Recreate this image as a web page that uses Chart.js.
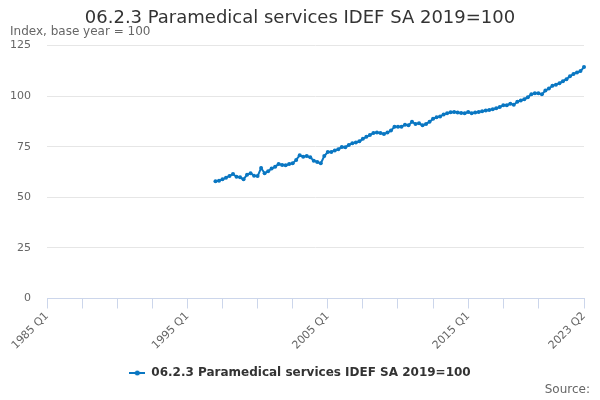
<!DOCTYPE html>
<html><head><meta charset="utf-8">
<script src="https://cdn.jsdelivr.net/npm/chart.js@4/dist/chart.umd.min.js"></script>
<style>html,body{margin:0;padding:0;background:#fff}#wrap{width:600px;height:400px;position:relative}</style>
</head><body><div id="wrap"><canvas id="c"></canvas></div>
<script>
const chartTitle = '06.2.3 Paramedical services IDEF SA 2019=100';
const seriesName = '06.2.3 Paramedical services IDEF SA 2019=100';
const yAxisTitle = 'Index, base year = 100';
const sourceText = 'Source:';
const firstYear = 1985, lastYear = 2023, lastQuarter = 2;
const categories = [];
for (let y = firstYear; y <= lastYear; y++) {
  for (let q = 1; q <= 4; q++) {
    if (y === lastYear && q > lastQuarter) break;
    categories.push(y + ' Q' + q);
  }
}
const seriesStart = '1997 Q1';
const values = [
  57.9, 58.2, 58.9, 59.7, 60.6, 61.5, 60.2, 59.9, 58.9, 61.2,
  61.9, 60.7, 60.5, 64.5, 61.9, 62.9, 64.2, 65.1, 66.5, 66.0,
  65.8, 66.5, 66.8, 68.5, 70.8, 70.1, 70.4, 69.8, 68.1, 67.5,
  66.8, 70.4, 72.4, 72.4, 73.2, 73.8, 74.9, 74.8, 75.9, 76.7,
  77.1, 77.7, 78.9, 79.9, 80.8, 81.8, 82.0, 81.8, 81.3, 82.0,
  83.0, 84.9, 84.9, 84.9, 85.9, 85.6, 87.3, 86.3, 86.6, 85.6,
  86.3, 87.3, 88.8, 89.6, 90.0, 90.9, 91.6, 92.1, 92.2, 91.9,
  91.7, 91.6, 92.2, 91.6, 91.9, 92.2, 92.6, 92.9, 93.2, 93.6,
  94.0, 94.6, 95.5, 95.5, 96.2, 95.8, 97.2, 97.9, 98.5, 99.5,
  100.9, 101.5, 101.5, 100.9, 102.8, 103.8, 105.1, 105.7, 106.4, 107.4,
  108.4, 109.8, 111.0, 111.7, 112.4, 114.4
];
const labelledTicks = ['1985 Q1', '1995 Q1', '2005 Q1', '2015 Q1', '2023 Q2'];
const tickMarkStep = 10;
const tickMarkLast = 140;
const yMin = 0, yMax = 125, yStep = 25;

const startIdx = categories.indexOf(seriesStart);
const data = categories.map((c, i) => (i >= startIdx && i - startIdx < values.length) ? values[i - startIdx] : null);

const FONT = "'DejaVu Sans', Verdana, sans-serif";
const LINE = '#0a77c2';

// legend icon: line with dot
const icon = document.createElement('canvas');
icon.width = 16; icon.height = 8;
(function(){
  const g = icon.getContext('2d');
  g.strokeStyle = LINE; g.lineWidth = 2;
  g.beginPath(); g.moveTo(0, 4); g.lineTo(16, 4); g.stroke();
  g.fillStyle = LINE; g.beginPath(); g.arc(8, 4, 2.5, 0, Math.PI * 2); g.fill();
})();

const extraText = {
  id: 'extraText',
  afterDraw(chart) {
    const ctx = chart.ctx;
    ctx.save();
    ctx.font = '12px ' + FONT;
    ctx.fillStyle = '#666666';
    ctx.textBaseline = 'middle';
    ctx.textAlign = 'left';
    ctx.fillText(yAxisTitle, 10, 32);
    ctx.textAlign = 'right';
    ctx.fillText(sourceText, 590, 390);
    ctx.restore();
  }
};

new Chart(document.getElementById('c'), {
  type: 'line',
  data: {
    labels: categories,
    datasets: [{
      label: seriesName,
      data: data,
      borderColor: LINE,
      backgroundColor: LINE,
      borderWidth: 2,
      pointRadius: 2,
      pointBorderWidth: 0,
      pointBackgroundColor: LINE,
      tension: 0,
      spanGaps: false,
      yAxisID: 'y'
    }]
  },
  options: {
    responsive: true,
    maintainAspectRatio: false,
    animation: false,
    layout: { padding: { left: 8, right: 8, top: 0, bottom: 11 } },
    plugins: {
      title: {
        display: true,
        text: chartTitle,
        color: '#333333',
        font: { family: FONT, size: 18, weight: 'normal' },
        padding: { top: 8, bottom: 16 }
      },
      legend: {
        position: 'bottom',
        labels: {
          usePointStyle: true,
          pointStyleWidth: 16,
          padding: 10,
          color: '#333333',
          font: { family: FONT, size: 12, weight: 'bold' },
          generateLabels: () => [{
            text: seriesName, pointStyle: icon, fillStyle: LINE, strokeStyle: LINE,
            lineWidth: 0, hidden: false, datasetIndex: 0, fontColor: '#333333'
          }]
        }
      },
      tooltip: { enabled: false }
    },
    scales: {
      x: {
        type: 'category',
        offset: false,
        border: { display: true, color: '#ccd6eb', width: 1 },
        grid: {
          drawOnChartArea: false,
          drawTicks: true,
          tickLength: 10,
          color: (ctx) => {
            const i = ctx.index;
            return ((i % tickMarkStep === 0 && i <= tickMarkLast) || i === categories.length - 1) ? '#ccd6eb' : 'rgba(0,0,0,0)';
          }
        },
        ticks: {
          autoSkip: false,
          maxRotation: 45,
          minRotation: 45,
          padding: 1,
          color: '#666666',
          font: { family: FONT, size: 11 },
          callback: function (val, idx) {
            const lab = this.getLabelForValue(val);
            return labelledTicks.includes(lab) ? lab : '';
          }
        },
        afterFit: (s) => { s.height = 58.5; }
      },
      y: {
        position: 'left',
        min: yMin, max: yMax,
        border: { display: false },
        grid: { color: '#e6e6e6', drawTicks: false },
        ticks: {
          stepSize: yStep,
          padding: 16,
          color: '#666666',
          font: { family: FONT, size: 11 }
        },
        afterFit: (s) => { s.width = 39; }
      },
      yRightSpace: {
        position: 'right',
        display: true,
        border: { display: false },
        grid: { display: false, drawTicks: false },
        ticks: { display: false },
        afterFit: (s) => { s.width = 8; }
      }
    }
  },
  plugins: [extraText]
});
</script>
</body></html>
